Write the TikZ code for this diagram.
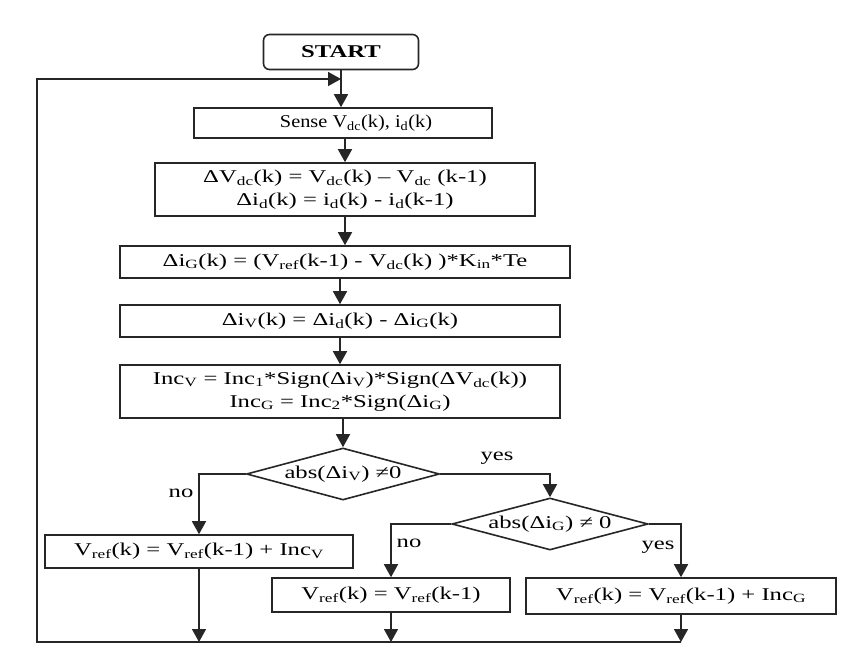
\documentclass[tikz,border=0pt]{standalone}
\usepackage{fontspec}
\setmainfont{Liberation Serif}
\newfontfamily\startfont[FakeStretch=1.37]{Liberation Serif}
\newfontfamily\wideserif[FakeStretch=1.37]{Liberation Serif}
\newfontfamily\senseserif[FakeStretch=1.13]{Liberation Serif}
\usetikzlibrary{arrows.meta,shapes.geometric}
\newcommand\sbs[1]{\textsubscript{#1}}
\begin{document}
\begin{tikzpicture}[x=1pt,y=-1pt,
  every node/.style={font=\wideserif\fontsize{18}{23}\selectfont},
  box/.style={draw=black!85, line width=1.6pt, rectangle, inner sep=0pt, align=center},
  dia/.style={draw=black!85, line width=1.6pt, diamond, aspect=3.7, inner sep=0pt},
  lbl/.style={inner sep=0pt},
  conn/.style={draw=black!85, line width=1.6pt},
  arr/.style={conn, -{Triangle[width=14pt,length=13pt]}}]
\useasboundingbox (0,0) rectangle (864,663);
\fill[white] (0,0) rectangle (864,663);

\node[box, rounded corners=6pt, minimum width=155, minimum height=35] (start) at (341,52) {\startfont\bfseries\fontsize{18}{23}\selectfont START};
\node[box, minimum width=298, minimum height=30] (sense) at (343,123) {\senseserif\hspace*{26pt}Sense V\sbs{dc}(k), i\sbs{d}(k)};
\node[box, minimum width=380, minimum height=53] (b2) at (345,189.5) {ΔV\sbs{dc}(k) = V\sbs{dc}(k) – V\sbs{dc} (k-1)\\Δi\sbs{d}(k) = i\sbs{d}(k) - i\sbs{d}(k-1)};
\node[box, minimum width=450, minimum height=32] (b3) at (345,262) {Δi\sbs{G}(k) = (V\sbs{ref}(k-1) - V\sbs{dc}(k) )*K\sbs{in}*Te};
\node[box, minimum width=440, minimum height=32] (b4) at (340,321) {Δi\sbs{V}(k) = Δi\sbs{d}(k) - Δi\sbs{G}(k)};
\node[box, minimum width=440, minimum height=53] (b5) at (340,391.5) {Inc\sbs{V} = Inc\sbs{1}*Sign(Δi\sbs{V})*Sign(ΔV\sbs{dc}(k))\\Inc\sbs{G} = Inc\sbs{2}*Sign(Δi\sbs{G})};
\node[dia, minimum width=193, minimum height=52] (d1) at (343,474) {\makebox[0pt]{abs(Δi\sbs{V}) ≠0}};
\node[dia, minimum width=196, minimum height=52] (d2) at (550,524) {\makebox[0pt]{abs(Δi\sbs{G}) ≠ 0}};
\node[box, minimum width=308, minimum height=33] (b6) at (199,551.5) {V\sbs{ref}(k) = V\sbs{ref}(k-1) + Inc\sbs{V}};
\node[box, minimum width=238, minimum height=34] (b7) at (391,595) {V\sbs{ref}(k) = V\sbs{ref}(k-1)};
\node[box, minimum width=310, minimum height=36] (b8) at (681,596) {V\sbs{ref}(k) = V\sbs{ref}(k-1) + Inc\sbs{G}};

\node[lbl] (yes1) at (497,458) {yes};
\node[lbl] (no1) at (181,493) {no};
\node[lbl] (no2) at (409,543) {no};
\node[lbl] (yes2) at (658,547) {yes};

\coordinate (loopin) at (341,79);
\coordinate (tl) at (37,79);
\coordinate (bl) at (37,642);
\coordinate (b6e) at (199,642);
\coordinate (b7e) at (391,642);
\coordinate (b8e) at (681,642);

\draw[arr] (start) -- (start |- sense.north);
\draw[arr] (sense.south -| b2.north) -- (b2.north);
\draw[arr] (b2) -- (b3);
\draw[arr] (b3.south -| b4.north) -- (b4.north);
\draw[arr] (b4) -- (b5);
\draw[arr] (b5.south -| d1.north) -- (d1.north);
\draw[arr] (d1.east) -| (d2.north);
\draw[arr] (d1.west) -| (b6.north);
\draw[arr] (d2.west) -| (b7.north);
\draw[arr] (d2.east) -| (b8.north);
\draw[arr] (b6.south) -- (b6e);
\draw[arr] (b7.south) -- (b7e);
\draw[arr] (b8.south) -- (b8e);
\draw[arr] (b8e) -- (bl) -- (tl) -- (loopin);
\end{tikzpicture}
\end{document}
